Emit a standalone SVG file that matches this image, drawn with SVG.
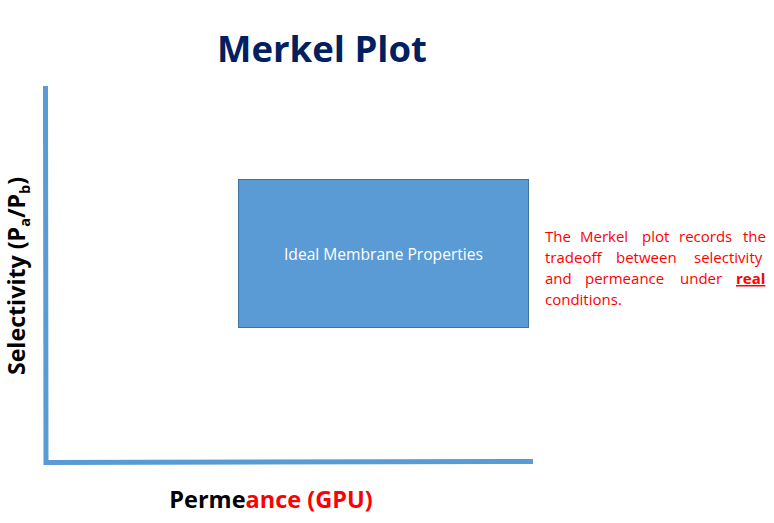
<svg xmlns="http://www.w3.org/2000/svg" width="774" height="523" viewBox="0 0 774 523">
<style>
.t{font-family:"Open Sans","Noto Sans","Liberation Sans",sans-serif}
.b{font-weight:bold}
.red{fill:#FF0000}
.ax{stroke:#5B9BD5;stroke-width:5;fill:none}
</style>
<rect width="774" height="523" fill="#FFFFFF"/>
<text id="title" class="t b" x="322" y="62" font-size="36.5" fill="#002060" text-anchor="middle">Merkel Plot</text>
<g id="axes">
<path class="ax" d="M45.5,86 L46,462.5 L533,461.5"/>
</g>
<g id="ideal">
<rect x="238.5" y="179.5" width="290" height="148" fill="#5B9BD5" stroke="#41719C" stroke-width="1"/>
<text class="t" x="383.5" y="260" font-size="15.6" fill="#FFFFFF" text-anchor="middle">Ideal Membrane Properties</text>
</g>
<g id="ylabel">
<text class="t b" transform="translate(24.5,276) rotate(-90)" font-size="23.2" fill="#000000" text-anchor="middle">Selectivity (P<tspan font-size="14.5" dy="5">a</tspan><tspan dy="-5">/P</tspan><tspan font-size="14.5" dy="5">b</tspan><tspan dy="-5">)</tspan></text>
</g>
<g id="xlabel">
<text class="t b" x="271" y="508" font-size="23.5" text-anchor="middle">Perme<tspan class="red">ance (GPU)</tspan></text>
</g>
<g id="note" class="t red" font-size="15">
<text y="242"><tspan x="545">The</tspan><tspan x="580">Merkel</tspan><tspan x="642">plot</tspan><tspan x="679">records</tspan><tspan x="743">the</tspan></text>
<text y="263"><tspan x="545">tradeoff</tspan><tspan x="616">between</tspan><tspan x="694">selectivity</tspan></text>
<text y="284"><tspan x="545">and</tspan><tspan x="585">permeance</tspan><tspan x="680">under</tspan><tspan x="736" font-weight="bold" text-decoration="underline">real</tspan></text>
<text y="305"><tspan x="545">conditions.</tspan></text>
</g>
</svg>
